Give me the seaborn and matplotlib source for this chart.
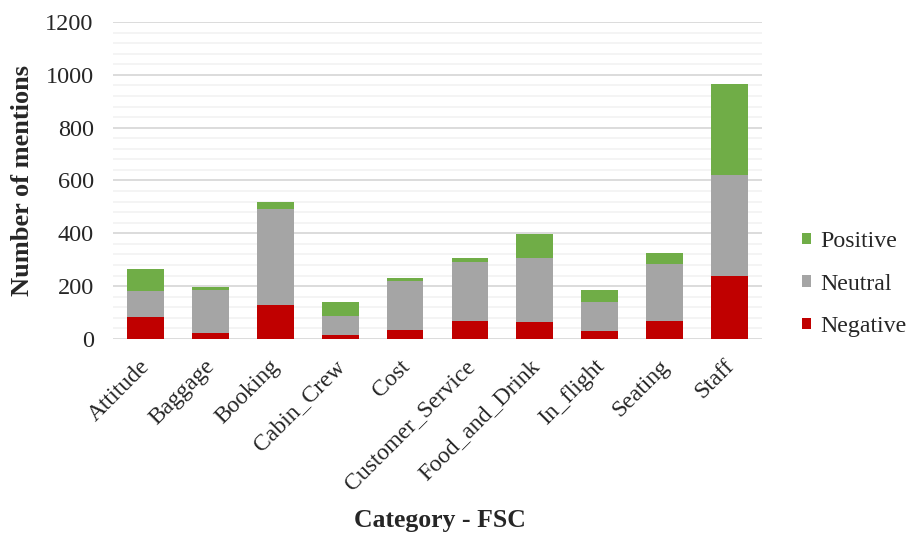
import matplotlib
matplotlib.use("Agg")
import matplotlib.pyplot as plt
from matplotlib.ticker import MultipleLocator
from matplotlib.patches import Patch
from matplotlib.transforms import ScaledTranslation
import numpy as np
import pandas as pd
import seaborn as sns

categories = ["Attitude", "Baggage", "Booking", "Cabin_Crew", "Cost",
              "Customer_Service", "Food_and_Drink", "In_flight", "Seating", "Staff"]
negative = [82, 24, 130, 14, 35, 67, 63, 29, 67, 238]
neutral = [100, 163, 361, 73, 183, 225, 242, 110, 218, 381]
positive = [81, 9, 28, 53, 14, 13, 91, 48, 40, 345]

sns.set_style("white")
plt.rcParams["font.family"] = ["Liberation Serif", "DejaVu Serif"]

df = pd.DataFrame({"category": categories, "Negative": negative,
                   "Neutral": neutral, "Positive": positive})
# cumulative heights, drawn back to front to get a stacked look
df["neg_top"] = df["Negative"]
df["neu_top"] = df["Negative"] + df["Neutral"]
df["pos_top"] = df["neu_top"] + df["Positive"]

colors = {"Positive": "#70ad47", "Neutral": "#a5a5a5", "Negative": "#c00000"}

fig = plt.figure(figsize=(9.09, 5.38), dpi=100)
ax = fig.add_axes([0.1245, 0.37, 0.7135, 0.589])

for col, name in [("pos_top", "Positive"), ("neu_top", "Neutral"), ("neg_top", "Negative")]:
    sns.barplot(data=df, x="category", y=col, order=categories, color=colors[name],
                width=0.566, saturation=1, ax=ax, edgecolor="none", zorder=3)

ax.set_ylim(0, 1200)
ax.set_xlim(-0.5, len(categories) - 0.5)
ax.yaxis.set_major_locator(MultipleLocator(200))
ax.yaxis.set_minor_locator(MultipleLocator(40))
ax.grid(axis="y", which="major", color="#d9d9d9", linewidth=1.3, zorder=0)
ax.grid(axis="y", which="minor", color="#f2f2f2", linewidth=1.2, zorder=0)
ax.set_axisbelow(True)
for s in ax.spines.values():
    s.set_visible(False)
ax.tick_params(axis="both", which="both", length=0, labelsize=17.5)
ax.tick_params(axis="y", pad=14)
ax.tick_params(axis="x", pad=12, labelsize=17)
shift = ScaledTranslation(-6 / 100, 0, fig.dpi_scale_trans)
for lab in ax.get_xticklabels():
    lab.set_rotation(45)
    lab.set_ha("right")
    lab.set_rotation_mode("anchor")
    lab.set_transform(lab.get_transform() + shift)

ax.set_ylabel("")
ax.set_xlabel("")
fig.text(0.025, 0.664, "Number of mentions", rotation=90, ha="center", va="center",
         fontsize=19, fontweight="bold")
fig.text(0.484, 0.033, "Category - FSC", ha="center", va="center",
         fontsize=18.5, fontweight="bold")

handles = [Patch(facecolor=colors[n], edgecolor="none") for n in ["Positive", "Neutral", "Negative"]]
fig.legend(handles, ["Positive", "Neutral", "Negative"], loc="center left",
           bbox_to_anchor=(0.882, 0.472), frameon=False, fontsize=17.2,
           handlelength=0.38, handleheight=0.38, handletextpad=0.4, labelspacing=0.9,
           borderpad=0, borderaxespad=0)

fig.savefig("out.png", dpi=100)
